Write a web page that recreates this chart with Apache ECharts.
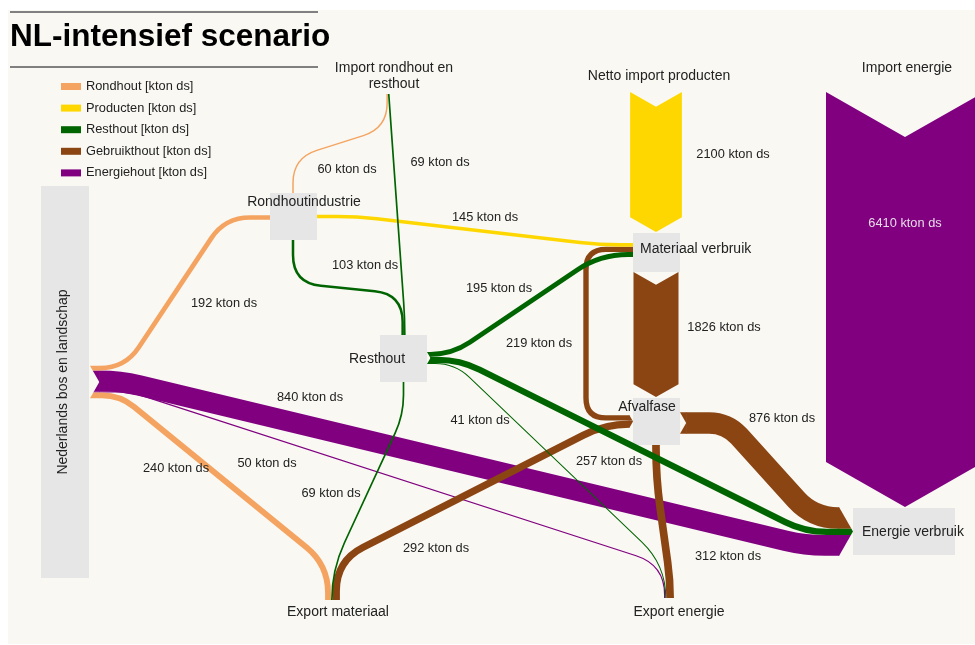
<!DOCTYPE html>
<html lang="nl">
<head>
<meta charset="utf-8">
<title>NL-intensief scenario</title>
<script src="https://cdn.jsdelivr.net/npm/echarts/dist/echarts.min.js"></script>
<style>
  html, body { margin: 0; padding: 0; background: #ffffff; }
  #chart { width: 975px; height: 645px; }
</style>
</head>
<body>
<div id="chart"></div>
<script>
// Houtstromen in het NL-intensief scenario, in kiloton droge stof.

// ---------- data ----------
const nodeNames = [
  'Nederlands bos en landschap', // 0
  'Import rondhout en resthout', // 1
  'Rondhoutindustrie',           // 2
  'Resthout',                    // 3
  'Netto import producten',      // 4
  'Materiaal verbruik',          // 5
  'Afvalfase',                   // 6
  'Import energie',              // 7
  'Energie verbruik',            // 8
  'Export materiaal',            // 9
  'Export energie'               // 10
];
const woodTypes = [
  'Rondhout [kton ds]',
  'Producten [kton ds]',
  'Resthout [kton ds]',
  'Gebruikthout [kton ds]',
  'Energiehout [kton ds]'
];
const flowSources = [0, 0, 0, 0, 1, 1, 2, 2, 3, 3, 3, 3, 4, 5, 6, 6, 6, 6, 7];
const flowTargets = [2, 9, 8, 10, 2, 3, 3, 5, 5, 8, 10, 9, 5, 6, 5, 9, 8, 10, 8];
const flowKinds   = [0, 0, 4, 4, 0, 2, 2, 1, 2, 2, 2, 2, 1, 3, 3, 3, 3, 3, 4];
const flowValues  = [192, 240, 840, 50, 60, 69, 103, 145, 195, 257, 41, 69, 2100, 1826, 219, 292, 876, 312, 6410];
const valueUnit = 'kton ds';

// ---------- layout and styling ----------
const FONT = '"Liberation Sans", Arial, Helvetica, sans-serif';
const TEXT = '#222222';
const BOX = '#e6e6e6';
const PAPER = '#f9f8f3';
const BAND_PER_KTON = 0.02465;          // band thickness per kton (layout units)
const CHEVRON = 0.57;                    // chevron depth relative to half a bundle
const woodColors = ['#f4a460', '#ffd700', '#006400', '#8b4513', '#800080'];

// grey node boxes [x, y, w, h]
const nodeBoxes = {
  0: [41, 186, 48, 392],
  2: [270, 193, 47, 47],
  3: [380, 335, 47, 47],
  5: [633, 233, 47, 39],
  6: [633, 398, 47, 47],
  8: [853, 508, 102, 47]
};
// node captions
const nodeLabels = {
  0: { x: 63, y: 382, rotate: true, align: 'center' },
  1: { x: 394, y: 76, align: 'center', breakAt: 18 },
  2: { x: 304, y: 202, align: 'center' },
  3: { x: 377, y: 359, align: 'center' },
  4: { x: 659, y: 76, align: 'center' },
  5: { x: 640, y: 249, align: 'left' },
  6: { x: 647, y: 407, align: 'center' },
  7: { x: 907, y: 68, align: 'center' },
  8: { x: 862, y: 532, align: 'left' },
  9: { x: 338, y: 612, align: 'center' },
  10: { x: 679, y: 612, align: 'center' }
};

// Bundles where flows meet a node. along 'x': bands run horizontally at the edge x = at,
// stacked in y around mid; along 'y': bands run vertically at y = at, stacked in x.
const ports = {
  nlRight:   { along: 'x', at: 90,  mid: 382,   cap: 'tail', flows: [0, 2, 3, 1] },
  impBottom: { along: 'y', at: 94,  mid: 388,   flows: [4, 5] },
  rhLeft:    { along: 'x', at: 270, mid: 217.5, flows: [0] },
  rhRight:   { along: 'x', at: 317, mid: 216.5, flows: [7] },
  rhTop:     { along: 'y', at: 193, mid: 293,   flows: [4] },
  rhBottom:  { along: 'y', at: 240, mid: 293,   flows: [6] },
  rtTop:     { along: 'y', at: 335, mid: 403.5, flows: [6, 5] },
  rtBottom:  { along: 'y', at: 382, mid: 403.5, flows: [11] },
  rtRight:   { along: 'x', at: 427, mid: 358,   cap: 'tail', flows: [8, 9, 10] },
  mvLeft:    { along: 'x', at: 633, mid: 250,   flows: [7, 14, 8] },
  afLeft:    { along: 'x', at: 633, mid: 421.5, cap: 'tip', flows: [14, 15] },
  afRight:   { along: 'x', at: 680, mid: 423,   cap: 'tail', flows: [16] },
  afBottom:  { along: 'y', at: 445, mid: 656,   flows: [17] },
  evLeft:    { along: 'x', at: 853, mid: 531.5, cap: 'tip', flows: [16, 9, 2] },
  exMat:     { along: 'y', at: 600, mid: 332.5, flows: [1, 11, 15] },
  exEn:      { along: 'y', at: 598, mid: 669,   flows: [3, 10, 17] }
};

// Routing per flow: corner points [x, y, radius]; 's' / 'e' take the coordinate
// of the band at the start / end bundle. Large arrows are drawn as chevrons.
const routes = {
  0:  { from: 'nlRight', to: 'rhLeft', via: [[125, 's', 25], [225, 'e', 25]] },
  1:  { from: 'nlRight', to: 'exMat', via: [[120, 's', 18], ['e', 565, 28]] },
  2:  { from: 'nlRight', to: 'evLeft', via: [[120, 's', 20], [805, 'e', 20]] },
  3:  { from: 'nlRight', to: 'exEn', via: [[130, 's', 15], ['e', 565, 30]] },
  4:  { from: 'impBottom', to: 'rhTop', via: [['s', 128, 25], ['e', 158, 25]] },
  5:  { from: 'impBottom', to: 'rtTop', via: [['e', 318, 15]] },
  6:  { from: 'rhBottom', to: 'rtTop', via: [['s', 283, 28], ['e', 294, 28]] },
  7:  { from: 'rhRight', to: 'mvLeft', via: [[357, 's', 20], [600, 'e', 20]] },
  8:  { from: 'rtRight', to: 'mvLeft', via: [[452, 's', 22], [600, 'e', 28]] },
  9:  { from: 'rtRight', to: 'evLeft', via: [[460, 's', 22], [805, 'e', 22]] },
  10: { from: 'rtRight', to: 'exEn', via: [[455, 's', 20], ['e', 565, 40]] },
  11: { from: 'rtBottom', to: 'exMat', via: [['s', 415, 20], ['e', 570, 30]] },
  12: { arrow: true, cx: 656, top: 92, tip: 232 },
  13: { arrow: true, cx: 656, top: 272, tip: 397 },
  14: { from: 'afLeft', to: 'mvLeft', via: [[586, 's', 20], [586, 'e', 20]] },
  15: { from: 'afLeft', to: 'exMat', via: [[605, 's', 25], ['e', 561, 30]] },
  16: { from: 'afRight', to: 'evLeft', via: [[727, 's', 18], [813, 'e', 25]] },
  17: { from: 'afBottom', to: 'exEn', via: [['s', 478, 30], ['e', 580, 20]] },
  18: { arrow: true, cx: 905, top: 92, tip: 507 }
};

// value captions, centred on these points
const flowLabelAt = {
  0: [224, 303], 1: [176, 468], 2: [310, 397], 3: [267, 463], 4: [347, 169],
  5: [440, 162], 6: [365, 265], 7: [485, 217], 8: [499, 288], 9: [609, 461],
  10: [480, 420], 11: [331, 493], 12: [733, 154], 13: [724, 327], 14: [539, 343],
  15: [436, 548], 16: [782, 418], 17: [728, 556], 18: [905, 223]
};

// ---------- bundle stacking from the values ----------
const stacks = {};
Object.keys(ports).forEach(name => {
  const p = ports[name];
  const total = p.flows.reduce((s, f) => s + flowValues[f] * BAND_PER_KTON, 0);
  let pos = p.mid - total / 2;
  const bands = {};
  p.flows.forEach(f => {
    const w = flowValues[f] * BAND_PER_KTON;
    bands[f] = [pos, pos + w];
    pos += w;
  });
  stacks[name] = { total, half: total / 2, depth: CHEVRON * total / 2, bands };
});

function portPoint(name, f) {
  const p = ports[name], st = stacks[name];
  const [a, b] = st.bands[f];
  const c = (a + b) / 2;
  let at = p.at;
  if (p.cap === 'tip') at -= st.depth;
  if (p.cap === 'tail') at += st.depth;
  return p.along === 'x' ? [at, c] : [c, at];
}

function routePoints(f) {
  const r = routes[f];
  const s = portPoint(r.from, f), e = portPoint(r.to, f);
  const pick = (v, i) => (v === 's' ? s[i] : v === 'e' ? e[i] : v);
  const pts = [[s[0], s[1], 0]];
  r.via.forEach(([x, y, rad]) => pts.push([pick(x, 0), pick(y, 1), rad]));
  pts.push([e[0], e[1], 0]);
  return pts;
}

// chevron piece of one band at a bundle with a tip or a notch
function capPoints(name, f) {
  const p = ports[name], st = stacks[name];
  const [a, b] = st.bands[f];
  const D = st.depth, X = p.at, mid = p.mid;
  const k = y => 1 - Math.abs(y - mid) / st.half;
  const inside = a < mid && mid < b;
  let pts;
  if (p.cap === 'tip') {
    const base = X - D;
    pts = [[base - 0.6, a], [base + D * k(a), a]];
    if (inside) pts.push([X, mid]);
    pts.push([base + D * k(b), b], [base - 0.6, b]);
  } else {
    const top = X + D;
    pts = [[X + D * k(a), a], [top + 0.6, a], [top + 0.6, b], [X + D * k(b), b]];
    if (inside) pts.push([top, mid]);
  }
  return pts;
}

// polyline with rounded corners as SVG path data
function roundedPath(pts) {
  const n = pts.length;
  let d = 'M' + pts[0][0] + ',' + pts[0][1];
  for (let i = 1; i < n - 1; i++) {
    const [px, py] = pts[i - 1], [x, y, r] = pts[i], [nx, ny] = pts[i + 1];
    const l1 = Math.hypot(x - px, y - py), l2 = Math.hypot(nx - x, ny - y);
    const rr = Math.min(r || 0, i === 1 ? l1 : l1 / 2, i === n - 2 ? l2 : l2 / 2);
    if (rr <= 0 || l1 === 0 || l2 === 0) { d += ' L' + x + ',' + y; continue; }
    const ax = x - (x - px) / l1 * rr, ay = y - (y - py) / l1 * rr;
    const bx = x + (nx - x) / l2 * rr, by = y + (ny - y) / l2 * rr;
    d += ' L' + ax + ',' + ay + ' Q' + x + ',' + y + ' ' + bx + ',' + by;
  }
  d += ' L' + pts[n - 1][0] + ',' + pts[n - 1][1];
  return d;
}

// ---------- rendering ----------
function renderFlow(params, api) {
  const f = api.value(0);
  const color = woodColors[flowKinds[f]];
  const unitPx = api.size([1, 1]);
  const r = routes[f];
  const children = [];
  if (r.arrow) {
    const h = flowValues[f] * BAND_PER_KTON / 2, d = CHEVRON * h;
    const poly = [[r.cx - h, r.top], [r.cx, r.top + d], [r.cx + h, r.top],
                  [r.cx + h, r.tip - d], [r.cx, r.tip], [r.cx - h, r.tip - d]];
    children.push({ type: 'polygon', shape: { points: poly.map(p => api.coord(p)) },
                    style: { fill: color } });
  } else {
    const pts = routePoints(f).map(p => {
      const c = api.coord([p[0], p[1]]);
      return [c[0], c[1], p[2] * unitPx[0]];
    });
    children.push({
      type: 'path',
      shape: { pathData: roundedPath(pts) },
      style: { fill: 'none', stroke: color, lineWidth: flowValues[f] * BAND_PER_KTON * unitPx[1],
               lineCap: 'butt', lineJoin: 'round' }
    });
    [r.from, r.to].forEach(pn => {
      if (ports[pn].cap) {
        children.push({ type: 'polygon', shape: { points: capPoints(pn, f).map(p => api.coord(p)) },
                        style: { fill: color } });
      }
    });
  }
  const lc = api.coord(flowLabelAt[f]);
  children.push({
    type: 'text', x: lc[0], y: lc[1], z2: 100,
    style: { text: flowValues[f] + ' ' + valueUnit, fill: f === 18 ? '#e6dbe6' : TEXT,
             font: '12.8px ' + FONT, align: 'center', verticalAlign: 'middle' }
  });
  return { type: 'group', children };
}

function renderNode(params, api) {
  const n = api.value(0);
  const children = [];
  const box = nodeBoxes[n];
  if (box) {
    const p0 = api.coord([box[0], box[1]]), p1 = api.coord([box[0] + box[2], box[1] + box[3]]);
    children.push({ type: 'rect', shape: { x: p0[0], y: p0[1], width: p1[0] - p0[0], height: p1[1] - p0[1] },
                    style: { fill: BOX } });
  }
  const lab = nodeLabels[n];
  const name = nodeNames[n];
  const text = lab.breakAt ? name.slice(0, lab.breakAt) + '\n' + name.slice(lab.breakAt + 1) : name;
  const c = api.coord([lab.x, lab.y]);
  children.push({
    type: 'text', x: c[0], y: c[1], rotation: lab.rotate ? Math.PI / 2 : 0, z2: 100,
    style: { text, fill: TEXT, font: '14px ' + FONT, align: lab.align, verticalAlign: 'middle',
             lineHeight: 16.5 }
  });
  return { type: 'group', children };
}

const drawOrder = [4, 3, 0, 1, 2]; // purple bands lowest
const flowSeries = drawOrder.map(k => ({
  type: 'custom',
  name: woodTypes[k],
  silent: true,
  itemStyle: { color: woodColors[k] },
  renderItem: renderFlow,
  data: flowValues.map((v, i) => i).filter(i => flowKinds[i] === k).map(i => [i, 0])
}));

const chart = echarts.init(document.getElementById('chart'), null, { renderer: 'canvas' });
chart.setOption({
  animation: false,
  backgroundColor: '#ffffff',
  title: {
    text: 'NL-intensief scenario', left: 10, top: 21, padding: 0,
    textStyle: { fontSize: 31.5, fontWeight: 'bold', color: '#000000', fontFamily: FONT }
  },
  legend: {
    data: woodTypes, orient: 'vertical', left: 61, top: 80, padding: 0,
    itemWidth: 20, itemHeight: 7, itemGap: 8.6, icon: 'rect', selectedMode: false,
    textStyle: { fontSize: 12.8, color: TEXT, fontFamily: FONT }
  },
  graphic: [
    { type: 'rect', z: -10, shape: { x: 8, y: 10, width: 967, height: 634 }, style: { fill: PAPER } },
    { type: 'line', shape: { x1: 10, y1: 12, x2: 318, y2: 12 }, style: { stroke: '#808080', lineWidth: 2 } },
    { type: 'line', shape: { x1: 10, y1: 67, x2: 318, y2: 67 }, style: { stroke: '#808080', lineWidth: 2 } }
  ],
  grid: { left: 0, right: 0, top: 0, bottom: 0 },
  xAxis: { type: 'value', min: 0, max: 975, show: false },
  yAxis: { type: 'value', min: 0, max: 645, inverse: true, show: false },
  tooltip: { show: false },
  series: [{
    type: 'custom',
    name: 'knooppunten',
    silent: true,
    renderItem: renderNode,
    data: nodeNames.map((n, i) => [i, 0])
  }].concat(flowSeries)
});
</script>
</body>
</html>
